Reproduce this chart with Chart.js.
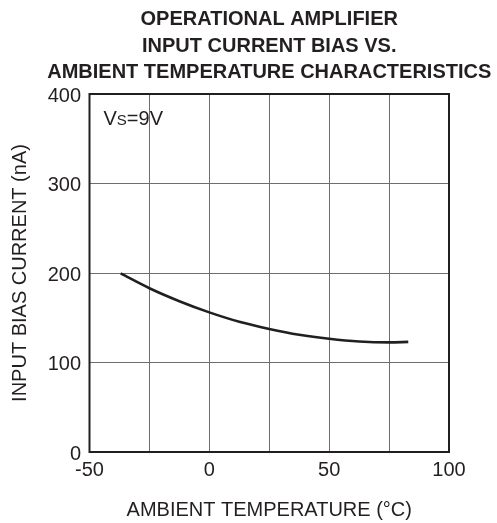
<!DOCTYPE html>
<html>
<head>
<meta charset="utf-8">
<script src="https://cdn.jsdelivr.net/npm/chart.js@4/dist/chart.umd.min.js"></script>
<style>
html,body{margin:0;padding:0;background:#fff;}
#wrap{width:497px;height:523px;}
</style>
</head>
<body>
<div id="wrap"><canvas id="c" width="497" height="523"></canvas></div>
<script>
const titleLines = ["OPERATIONAL AMPLIFIER", "INPUT CURRENT BIAS VS.", "AMBIENT TEMPERATURE CHARACTERISTICS"];
const xAxisTitle = "AMBIENT TEMPERATURE (°C)";
const yAxisTitle = "INPUT BIAS CURRENT (nA)";
const noteMain = "V";
const noteSub = "S";
const noteRest = "=9V";
const temperatures = [-37, -25, -12.5, 0, 12.5, 25, 37.5, 50, 62.5, 75, 83];
const biasCurrent = [199.5, 183, 168.5, 156, 145.5, 137.5, 131, 126.5, 123.5, 122.5, 123];
const xLabeled = [-50, 0, 50, 100];

const INK = '#231f20';
const FONT = "'Liberation Sans', Arial, Helvetica, sans-serif";

const decor = {
  id: 'decor',
  afterDraw(chart) {
    const ctx = chart.ctx;
    const a = chart.chartArea;
    ctx.save();
    // frame
    ctx.strokeStyle = INK;
    ctx.lineWidth = 2;
    ctx.strokeRect(a.left, a.top, a.right - a.left, a.bottom - a.top);
    // title
    ctx.fillStyle = INK;
    ctx.font = "bold 20px " + FONT;
    ctx.textAlign = 'center';
    ctx.textBaseline = 'middle';
    const cx = (a.left + a.right) / 2;
    titleLines.forEach((t, i) => ctx.fillText(t, cx, 19.5 + i * 26.6));
    // note Vs=9V
    ctx.textAlign = 'left';
    ctx.textBaseline = 'alphabetic';
    let x = a.left + 14, y = a.top + 31;
    ctx.font = "20px " + FONT;
    ctx.fillText(noteMain, x, y);
    x += ctx.measureText(noteMain).width;
    ctx.font = "15px " + FONT;
    ctx.fillText(noteSub, x, y);
    x += ctx.measureText(noteSub).width;
    ctx.font = "20px " + FONT;
    ctx.fillText(noteRest, x, y);
    ctx.restore();
  }
};

new Chart(document.getElementById('c'), {
  type: 'line',
  data: {
    datasets: [{
      data: temperatures.map((t, i) => ({x: t, y: biasCurrent[i]})),
      borderColor: INK,
      borderWidth: 2.6,
      pointRadius: 0,
      fill: false,
      cubicInterpolationMode: 'monotone'
    }]
  },
  options: {
    responsive: false,
    animation: false,
    layout: {padding: {top: 94, left: 0, right: 48, bottom: 1}},
    plugins: {legend: {display: false}, tooltip: {enabled: false}, title: {display: false}},
    scales: {
      x: {
        type: 'linear', min: -50, max: 100,
        afterFit(s) { s.height = 70; },
        ticks: {
          stepSize: 25, padding: 6.5, color: INK,
          font: {family: FONT, size: 20},
          maxRotation: 0, autoSkip: false,
          callback: v => xLabeled.includes(v) ? String(v) : ''
        },
        grid: {color: '#6e6e6e', lineWidth: 1, drawTicks: false},
        border: {display: false},
        title: {display: true, text: xAxisTitle, color: INK, font: {family: FONT, size: 20}, padding: {top: 15.5, bottom: 0}}
      },
      y: {
        min: 0, max: 400,
        afterFit(s) { s.width = 89.5; },
        ticks: {stepSize: 100, padding: 8.5, color: INK, font: {family: FONT, size: 20}, labelOffset: 2},
        grid: {color: '#6e6e6e', lineWidth: 1, drawTicks: false},
        border: {display: false},
        title: {display: true, text: yAxisTitle, color: INK, font: {family: FONT, size: 20}, padding: {top: 8, bottom: 0}}
      }
    }
  },
  plugins: [decor]
});
</script>
</body>
</html>
